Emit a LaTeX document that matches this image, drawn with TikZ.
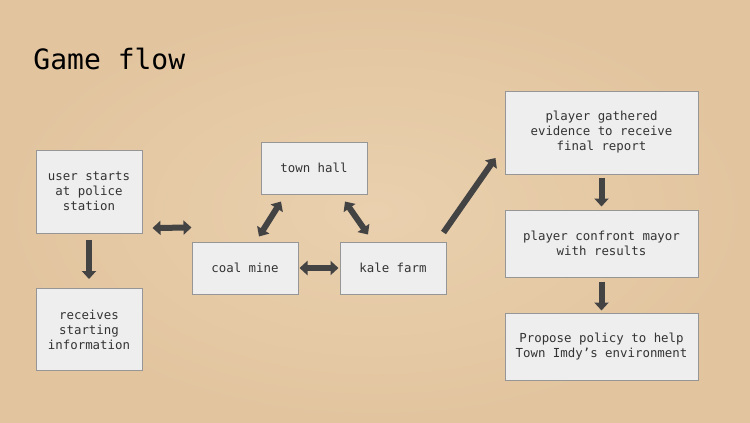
\documentclass[tikz,border=0pt]{standalone}
\usepackage{fontspec}
\setmonofont{DejaVu Sans Mono}
\usetikzlibrary{arrows.meta}

\definecolor{paper}{RGB}{234,208,174}
\definecolor{paperedge}{RGB}{226,197,159}
\definecolor{boxfill}{RGB}{238,238,238}
\definecolor{boxline}{RGB}{150,150,150}
\definecolor{arrowgray}{RGB}{67,67,67}
\definecolor{textgray}{RGB}{51,51,51}

\tikzset{every picture/.style={line width=0.75pt}}
\tikzset{
  flowbox/.style={draw=boxline, fill=boxfill, line width=0.75pt, inner sep=0pt,
    align=center, text=textgray, font=\ttfamily\fontsize{9.3}{11.25}\selectfont},
  flowarrow/.style={draw=arrowgray, line width=4.5pt,
    arrows={-Triangle[length=6pt,width=10.5pt]}},
  flowboth/.style={flowarrow, arrows={Triangle[length=6pt,width=10.5pt]-Triangle[length=6pt,width=10.5pt]}}
}

\begin{document}
\begin{tikzpicture}[x=0.75pt,y=0.75pt,yscale=-1,xscale=1]
	%Shape: Background
	\shade [inner color=paper, outer color=paperedge] (0,0) rectangle (750,422);

	% Text Node
	\node [anchor=base west, inner sep=0pt, font=\ttfamily\fontsize{21}{25}\selectfont] (title) at (33,69.5) {Game flow};

	%Shape: Rectangle
	\node [flowbox, minimum width=79.5pt, minimum height=62.25pt] (user) at (89,191.5) {user starts\\at police\\station};
	%Shape: Rectangle
	\node [flowbox, minimum width=79.5pt, minimum height=61.5pt] (recv) at (89,329.5) {receives\\starting\\information};
	%Shape: Rectangle
	\node [flowbox, minimum width=79.5pt, minimum height=39pt] (town) at (314,168) {town hall};
	%Shape: Rectangle
	\node [flowbox, minimum width=79.5pt, minimum height=39pt] (coal) at (245,268) {coal mine};
	%Shape: Rectangle
	\node [flowbox, minimum width=79.5pt, minimum height=39pt] (kale) at (393,268) {kale farm};
	%Shape: Rectangle
	\node [flowbox, minimum width=144.75pt, minimum height=62.25pt] (gather) at (601.5,132.5) {player gathered\\evidence to receive\\final report};
	%Shape: Rectangle
	\node [flowbox, minimum width=144.75pt, minimum height=50.25pt] (confront) at (601.5,243.5) {player confront mayor\\with results};
	%Shape: Rectangle
	\node [flowbox, minimum width=144.75pt, minimum height=50.25pt] (propose) at (601.5,346.5) {Propose policy to help\\Town Imdy’s environment};

	%Straight Lines
	\draw [flowarrow, shorten <=4.5pt, shorten >=6.75pt] (user.south) -- (recv.north);
	%Straight Lines
	\draw [flowboth] ([shift={(10,36.5)}]user.east) -- ([shift={(0,-14)}]coal.north west);
	%Straight Lines
	\draw [flowboth] ([shift={(14,-5)}]coal.north) -- ([shift={(-33,7)}]town.south);
	%Straight Lines
	\draw [flowboth] ([shift={(31,7)}]town.south) -- ([shift={(-25,-7)}]kale.north);
	%Straight Lines
	\draw [flowboth, shorten <=0.75pt, shorten >=0.75pt] (coal.east) -- (kale.west);
	%Straight Lines
	\draw [flowarrow] ([shift={(-3,-9)}]kale.north east) -- ([shift={(-9,25.5)}]gather.west);
	%Straight Lines
	\draw [flowarrow, shorten <=2.25pt, shorten >=2.25pt] (gather.south) -- (confront.north);
	%Straight Lines
	\draw [flowarrow, shorten <=3pt, shorten >=1.5pt] (confront.south) -- (propose.north);

\end{tikzpicture}
\end{document}
